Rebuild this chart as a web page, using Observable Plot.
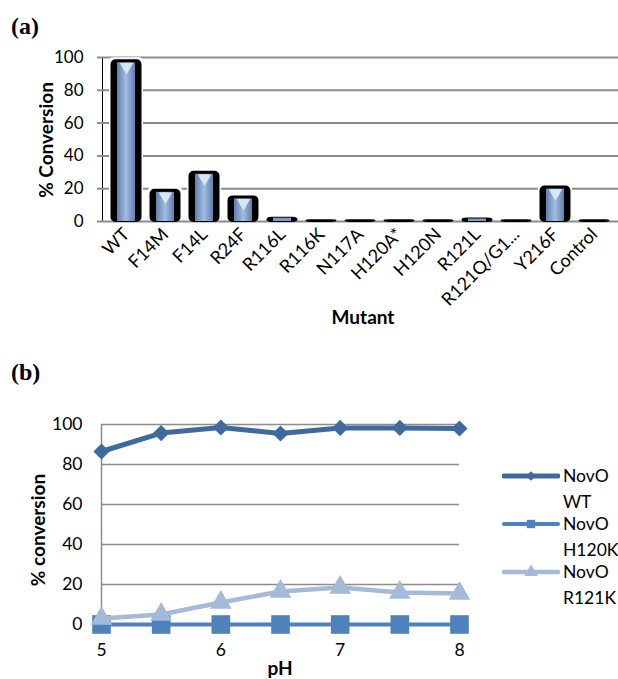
<!DOCTYPE html>
<html>
<head>
<meta charset="utf-8">
<script src="https://cdn.jsdelivr.net/npm/d3@7"></script>
<script src="https://cdn.jsdelivr.net/npm/@observablehq/plot@0.6"></script>
<style>
  html, body { margin: 0; padding: 0; background: #fff; }
  #root { position: relative; width: 618px; height: 679px; overflow: hidden; font-family: Lato, "Open Sans", sans-serif; }
  #root svg { position: absolute; left: 0; }
  .panel-label { position: absolute; font-family: "Liberation Serif", "DejaVu Serif", serif; font-weight: bold; font-size: 24px; }
  .axis-title { position: absolute; font-weight: bold; font-size: 19px; white-space: nowrap; }
  .rot { transform: translate(-50%, -50%) rotate(-90deg); }
  .ctr { transform: translate(-50%, -50%); }
  #legend { position: absolute; left: 502px; top: 463px; font-size: 17.5px; }
  .entry { display: flex; align-items: flex-start; height: 48px; }
  .entry svg { position: static !important; margin-top: 4px; }
  .entry .txt { line-height: 26px; margin-left: 3px; }
  .gray-axis g[aria-label^="y-axis"] line, .gray-axis g[aria-label^="y-axis"] path { stroke: #8c8c8c; stroke-width: 2; }
</style>
</head>
<body>
<div id="root">
  <div class="panel-label" style="left:11px; top:13px;">(a)</div>
  <div class="axis-title rot" style="left:45px; top:140px;">% Conversion</div>
  <div class="axis-title ctr" style="left:363px; top:316px;">Mutant</div>
  <div class="panel-label" style="left:11px; top:359px;">(b)</div>
  <div class="axis-title rot" style="left:37px; top:530px;">% conversion</div>
  <div class="axis-title ctr" style="left:280px; top:667px;">pH</div>
  <div id="legend"></div>
</div>
<script>
// ---------- Panel (a) data ----------
const mutants = ["WT", "F14M", "F14L", "R24F", "R116L", "R116K", "N117A", "H120A*", "H120N", "R121L", "R121Q/G1...", "Y216F", "Control"];
const conversion = [98, 19, 30, 15, 2, 0.5, 0.5, 0.5, 0.5, 1.5, 0.5, 21, 0.5];
const yTicksA = [0, 20, 40, 60, 80, 100];

// ---------- Panel (b) data ----------
const pH = [5, 5.5, 6, 6.5, 7, 7.5, 8];
const novoWT = [86.5, 95.7, 98.5, 95.5, 98.3, 98.3, 98];
const novoH120K = [0, 0, 0, 0, 0, 0, 0];
const novoR121K = [3, 5, 11, 16.5, 18.5, 16, 15.5];
const seriesNames = ["NovO WT", "NovO H120K", "NovO R121K"];
const xTicksB = [5, 6, 7, 8];
const yTicksB = [0, 20, 40, 60, 80, 100];

const root = document.getElementById("root");
const gridColor = "#8c8c8c";

const barData = mutants.map((m, i) => ({m, v: conversion[i]}));

const defs = () => {
  const d = d3.create("svg:defs");
  const g = d.append("linearGradient").attr("id", "barGrad").attr("x1", "0").attr("x2", "1").attr("y1", "0").attr("y2", "0");
  g.append("stop").attr("offset", "0%").attr("stop-color", "#5f7fae");
  g.append("stop").attr("offset", "50%").attr("stop-color", "#a3bde2");
  g.append("stop").attr("offset", "100%").attr("stop-color", "#5f7fae");
  return d.node();
};

const plotA = Plot.plot({
  width: 618, height: 330,
  marginLeft: 102, marginRight: 0, marginTop: 57, marginBottom: 109,
  style: {fontFamily: "Lato, sans-serif", fontSize: "17px", color: "black", background: "transparent"},
  x: {domain: mutants, paddingInner: 0.12, paddingOuter: 0.1, label: null, tickSize: 0, tickPadding: 10, tickRotate: -45},
  y: {domain: [0, 100], ticks: yTicksA, label: null, tickSize: 5, tickPadding: 14, line: true},
  marks: [
    defs,
    Plot.ruleY(yTicksA.filter(d => d > 0), {stroke: gridColor, strokeWidth: 2}),
    Plot.barY(barData, {x: "m", y: "v", fill: "white", insetTop: -3, rx: 4}),
    Plot.ruleY([0], {stroke: gridColor, strokeWidth: 2}),
    Plot.barY(barData, {x: "m", y: "v", fill: "black", stroke: "black", strokeWidth: 2, insetLeft: 2.5, insetRight: 2.5, rx: 4}),
    Plot.barY(barData.filter(d => d.v > 3), {x: "m", y: "v", fill: "url(#barGrad)", insetLeft: 8, insetRight: 8, insetTop: 2}),
    Plot.barY(barData.filter(d => d.v > 1 && d.v <= 3), {x: "m", y: "v", fill: "#7d99c4", insetLeft: 8, insetRight: 8}),
    Plot.dot(barData.filter(d => d.v > 3), {x: "m", y: "v", symbol: "triangle", r: 5, rotate: 180, fill: "#d6e7fa", dy: 6})
  ]
});
plotA.classList.add("gray-axis");
plotA.style.top = "0px";
d3.select(plotA).selectAll('g[aria-label^="x-axis"] text').style("font-size", "18px");
root.appendChild(plotA);

// ---------- Panel (b) ----------
const colors = ["#3e6a9d", "#4f81bd", "#a5b9d9"];
const lineData = [];
[novoWT, novoH120K, novoR121K].forEach((vals, s) => {
  pH.forEach((p, i) => lineData.push({series: seriesNames[s], pH: p, v: vals[i]}));
});
const bySeries = name => lineData.filter(d => d.series === name);

const plotB = Plot.plot({
  width: 618, height: 339,
  marginLeft: 101, marginRight: 159, marginTop: 84, marginBottom: 55,
  style: {fontFamily: "Lato, sans-serif", fontSize: "17.5px", color: "black", background: "transparent", overflow: "visible"},
  x: {domain: [5, 8], ticks: xTicksB, tickFormat: d3.format("d"), label: null, tickSize: 0, tickPadding: 19},
  y: {domain: [0, 100], ticks: yTicksB, label: null, tickSize: 0, tickPadding: 19},
  marks: [
    Plot.ruleY(yTicksB.filter(d => d > 0), {stroke: gridColor, strokeWidth: 1.5}),
    Plot.ruleX([5], {y1: 0, y2: 100, stroke: gridColor, strokeWidth: 1.5}),
    Plot.line(bySeries(seriesNames[0]), {x: "pH", y: "v", stroke: colors[0], strokeWidth: 5}),
    Plot.dot(bySeries(seriesNames[0]), {x: "pH", y: "v", symbol: "diamond2", r: 7.3, fill: colors[0]}),
    Plot.line(bySeries(seriesNames[1]), {x: "pH", y: "v", stroke: colors[1], strokeWidth: 4}),
    Plot.dot(bySeries(seriesNames[1]), {x: "pH", y: "v", symbol: "square", r: 10.5, fill: colors[1]}),
    Plot.line(bySeries(seriesNames[2]), {x: "pH", y: "v", stroke: colors[2], strokeWidth: 4.5}),
    Plot.dot(bySeries(seriesNames[2]), {x: "pH", y: "v", symbol: "triangle", r: 8, fill: colors[2]})
  ]
});
plotB.style.top = "340px";
root.appendChild(plotB);

// ---------- Legend (b) ----------
const legend = d3.select("#legend");
const symbols = [d3.symbolDiamond2, d3.symbolSquare, d3.symbolTriangle];
const symSizes = [60, 70, 80];
const widths = [5, 4, 4.5];
seriesNames.forEach((name, i) => {
  const e = legend.append("div").attr("class", "entry");
  const s = e.append("svg").attr("width", 58).attr("height", 18);
  s.append("line").attr("x1", 2).attr("x2", 56).attr("y1", 9).attr("y2", 9)
    .attr("stroke", colors[i]).attr("stroke-width", widths[i]).attr("stroke-linecap", "round");
  s.append("path").attr("d", d3.symbol(symbols[i], symSizes[i])()).attr("transform", "translate(29,9)").attr("fill", colors[i]);
  const parts = name.split(" ");
  e.append("div").attr("class", "txt").html(parts[0] + "<br>" + parts[1]);
});
</script>
</body>
</html>
